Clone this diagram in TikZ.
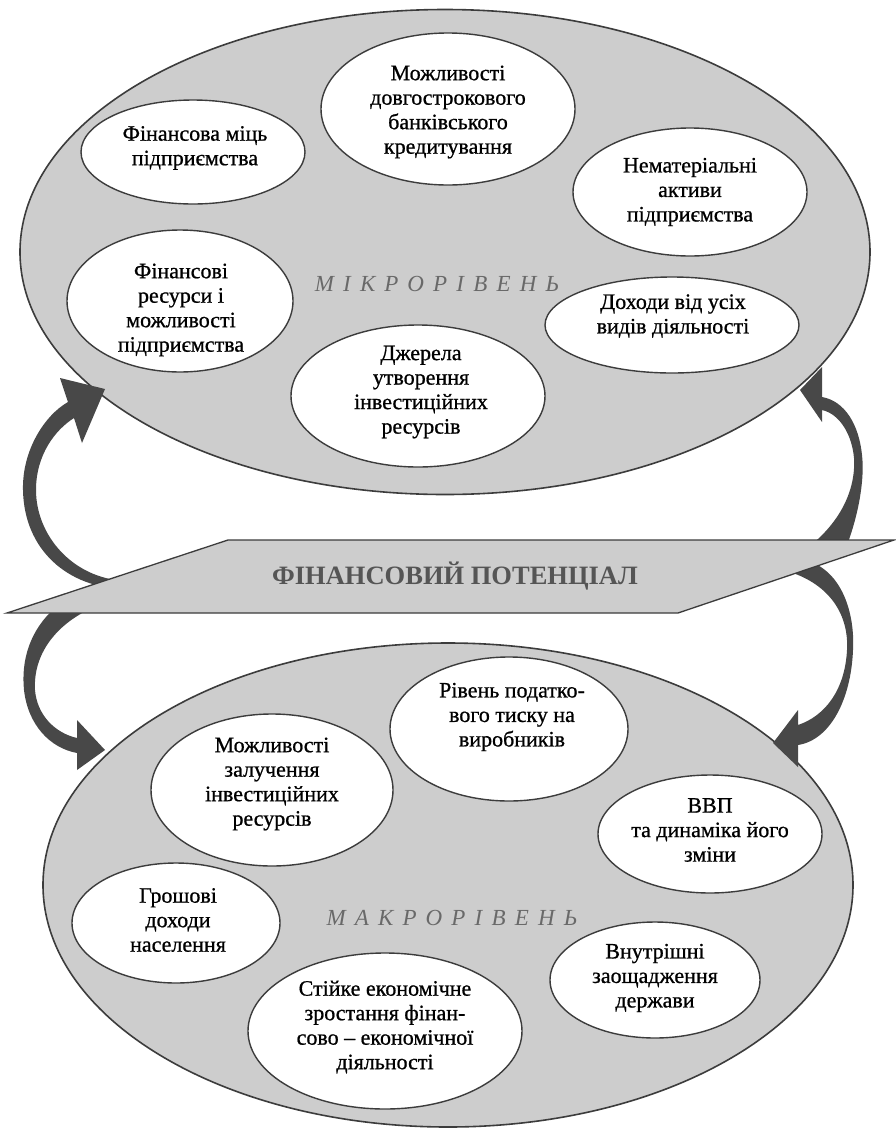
\documentclass[tikz,border=0pt]{standalone}
\usepackage{fontspec}
\setmainfont{Liberation Serif}
\usetikzlibrary{shapes.geometric}
\definecolor{bigfill}{RGB}{205,205,205}
\definecolor{edgec}{RGB}{60,60,60}
\definecolor{arrowc}{RGB}{72,72,72}
\definecolor{lvlc}{RGB}{105,105,105}
\definecolor{titlec}{RGB}{85,85,85}
\newfontfamily\bodyfont[FakeBold=0.8]{Liberation Serif}
\begin{document}
\begin{tikzpicture}[x=1pt,y=-1pt,
  bigell/.style={ellipse, draw=edgec, line width=1.6pt, fill=bigfill, inner sep=0pt},
  smallell/.style={ellipse, draw=edgec, line width=1.4pt, fill=white, inner sep=0pt},
  txt/.style={align=center, inner sep=0pt, font=\bodyfont\fontsize{22}{24.5}\selectfont},
  lvltxt/.style={inner sep=0pt, anchor=base, text=lvlc, font=\fontsize{23}{26}\selectfont\itshape\addfontfeature{LetterSpace=40}},
  arr/.style={fill=arrowc}
]
\useasboundingbox (0,0) rectangle (895,1128);
\fill[white] (0,0) rectangle (895,1128);

% ---------- top (micro) ellipse ----------
\node[bigell, minimum width=850pt, minimum height=485pt] (micro) at (445,252) {};
\node[smallell, minimum width=224pt, minimum height=104pt] (m1) at (193,152) {};
\node[smallell, minimum width=254pt, minimum height=152pt] (m2) at (448,109) {};
\node[smallell, minimum width=234pt, minimum height=128pt] (m3) at (690,192) {};
\node[smallell, minimum width=254pt, minimum height=96pt]  (m4) at (672,325) {};
\node[smallell, minimum width=226pt, minimum height=142pt] (m5) at (180,301) {};
\node[smallell, minimum width=254pt, minimum height=142pt] (m6) at (418,396) {};

\node[txt] (tm1) at (195,148) {Фінансова міць\\підприємства};
\node[txt] (tm2) at (448,112) {Можливості\\довгострокового\\банківського\\кредитування};
\node[txt] (tm3) at (690,192) {Нематеріальні\\активи\\підприємства};
\node[txt] (tm4) at (673,316) {Доходи від усіх\\видів діяльності};
\node[txt] (tm5) at (181,310) {Фінансові\\ресурси і\\можливості\\підприємства};
\node[txt] (tm6) at (421,392) {Джерела\\утворення\\інвестиційних\\ресурсів};
\node[lvltxt] (microlbl) at (437,291) {МІКРОРІВЕНЬ};

% ---------- bottom (macro) ellipse ----------
\node[bigell, minimum width=810pt, minimum height=484pt] (macro) at (448,885) {};
\node[smallell, minimum width=238pt, minimum height=144pt] (b1) at (509,729) {};
\node[smallell, minimum width=242pt, minimum height=152pt] (b2) at (272,790) {};
\node[smallell, minimum width=224pt, minimum height=118pt] (b3) at (710,834) {};
\node[smallell, minimum width=208pt, minimum height=120pt] (b4) at (176,923) {};
\node[smallell, minimum width=210pt, minimum height=116pt] (b5) at (655,980) {};
\node[smallell, minimum width=274pt, minimum height=156pt] (b6) at (385,1031) {};

\node[txt] (tb1) at (512,717) {Рівень податко-\\вого тиску на\\виробників};
\node[txt] (tb2) at (272,784) {Можливості\\залучення\\інвестиційних\\ресурсів};
\node[txt] (tb3) at (710,830) {ВВП\\та динаміка його\\зміни};
\node[txt] (tb4) at (178,920) {Грошові\\доходи\\населення};
\node[txt] (tb5) at (655,978) {Внутрішні\\заощадження\\держави};
\node[txt] (tb6) at (385,1027) {Стійке економічне\\зростання фінан-\\сово – економічної\\діяльності};
\node[lvltxt] (macrolbl) at (452,925) {МАКРОРІВЕНЬ};

% ---------- curved arrows ----------
% upper left
\fill[arr] (125,589) .. controls (68,588) and (24,550) .. (23,490)
  .. controls (22,450) and (45,415) .. (68,402)
  -- (60,378) -- (105,389) -- (82,443) -- (74,418)
  .. controls (55,430) and (36,455) .. (36,490)
  .. controls (36,535) and (72,578) .. (125,581) -- cycle;
% lower left
\fill[arr] (55,608) .. controls (30,630) and (21,660) .. (24,690)
  .. controls (28,725) and (50,748) .. (77,753)
  -- (77,770) -- (105,750) -- (77,720) -- (77,738)
  .. controls (55,733) and (37,715) .. (35,690)
  .. controls (33,655) and (55,625) .. (92,608) -- cycle;
% upper right
\fill[arr] (843,555) .. controls (858,520) and (865,480) .. (862,455)
  .. controls (859,425) and (845,401) .. (822,397)
  -- (822,367) -- (800,390) -- (822,422) -- (822,410)
  .. controls (840,414) and (852,435) .. (854,458)
  .. controls (856,490) and (840,525) .. (802,552) -- cycle;
% lower right
\fill[arr] (805,560) .. controls (843,570) and (855,615) .. (853,650)
  .. controls (851,700) and (830,740) .. (798,745)
  -- (798,767) -- (773,743) -- (798,710) -- (798,725)
  .. controls (825,716) and (845,690) .. (847,650)
  .. controls (849,615) and (830,585) .. (790,572) -- cycle;

% ---------- parallelogram ----------
\coordinate (p1) at (228,540);
\coordinate (p2) at (894,540);
\coordinate (p3) at (678,613);
\coordinate (p4) at (7,613);
\draw[fill=bigfill, draw=edgec, line width=1.3pt, line join=miter] (p1) -- (p2) -- (p3) -- (p4) -- cycle;
\node[inner sep=0pt, anchor=base, text=titlec, font=\fontsize{26.5}{27}\selectfont\bfseries] (fp) at (455,584) {ФІНАНСОВИЙ ПОТЕНЦІАЛ};
\end{tikzpicture}
\end{document}
